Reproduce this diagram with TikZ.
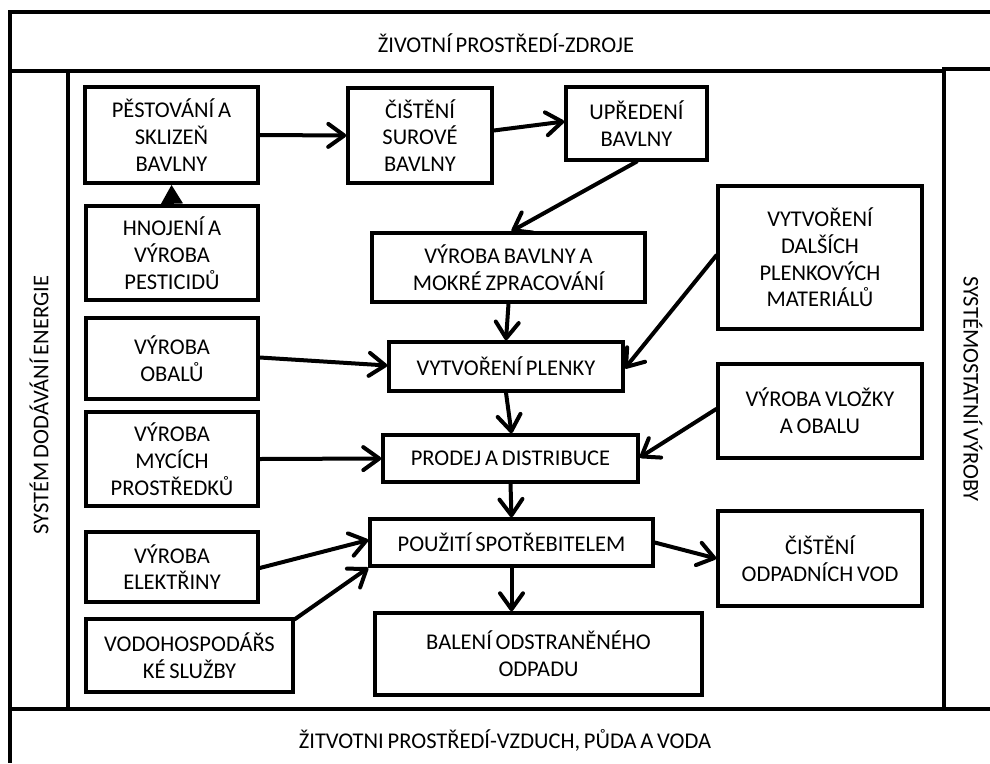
\documentclass[tikz,border=0pt]{standalone}
\usepackage{fontspec}
\setmainfont{Carlito}[WordSpace=0.75]
\usetikzlibrary{arrows.meta}
\begin{document}
\begin{tikzpicture}[x=1pt,y=-1pt,
  frame/.style={line width=3.5pt},
  box/.style={draw,line width=3.5pt,align=center,font=\fontsize{22.5}{26.7}\selectfont,inner sep=0pt},
  lbl/.style={font=\fontsize{22.5}{26}\selectfont,inner sep=0pt},
  arr/.style={line width=4pt,line cap=round,-{Straight Barb[length=16pt,width=23pt,line cap=round,line join=round]}},
  shortarr/.style={line width=4pt,-{Triangle[length=19pt,width=21pt]}},
]
\useasboundingbox (0,0) rectangle (990,763);
% frame
\draw[frame] (990,12) -- (10,12) -- (10,763);
\draw[frame] (10,71) -- (944,71);
\draw[frame] (68,71) -- (68,709);
\draw[frame] (990,69) -- (944,69) -- (944,709);
\draw[frame] (10,709) -- (990,709);
\node[lbl] (top) at (506,43) {ŽIVOTNÍ PROSTŘEDÍ-ZDROJE};
\node[lbl] (bot) at (505,740) {ŽITVOTNI PROSTŘEDÍ-VZDUCH, PŮDA A VODA};
\node[lbl,rotate=90] (lft) at (39,405) {SYSTÉM DODÁVÁNÍ ENERGIE};
\node[lbl,rotate=-90] (rgt) at (973,389) {SYSTÉMOSTATNÍ VÝROBY};
% boxes
\node[box,minimum width=173pt,minimum height=96pt] (pest) at (171.5,135) {PĚSTOVÁNÍ A\\SKLIZEŇ\\BAVLNY};
\node[box,minimum width=144pt,minimum height=95pt] (cist) at (420,135.5) {ČIŠTĚNÍ\\SUROVÉ\\BAVLNY};
\node[box,minimum width=141pt,minimum height=73pt] (upr) at (636.5,123.5) {UPŘEDENÍ\\BAVLNY};
\node[box,minimum width=172pt,minimum height=94pt] (hnoj) at (172,253) {HNOJENÍ A\\VÝROBA\\PESTICIDŮ};
\node[box,minimum width=273pt,minimum height=69pt] (mokre) at (508.5,267.5) {VÝROBA BAVLNY A\\MOKRÉ ZPRACOVÁNÍ};
\node[box,minimum width=204pt,minimum height=143pt] (dalsi) at (820,257.5) {VYTVOŘENÍ\\DALŠÍCH\\PLENKOVÝCH\\MATERIÁLŮ};
\node[box,minimum width=172pt,minimum height=81pt] (obal) at (172,358.5) {VÝROBA\\OBALŮ};
\node[box,minimum width=234pt,minimum height=49pt] (plenky) at (506,366.5) {VYTVOŘENÍ PLENKY};
\node[box,minimum width=172pt,minimum height=94pt] (myci) at (172,459) {VÝROBA\\MYCÍCH\\PROSTŘEDKŮ};
\node[box,minimum width=255pt,minimum height=47pt] (prodej) at (510.5,458.5) {PRODEJ A DISTRIBUCE};
\node[box,minimum width=204pt,minimum height=94pt] (vlozky) at (820,411) {VÝROBA VLOŽKY\\A OBALU};
\node[box,minimum width=283pt,minimum height=47pt] (pouz) at (511.5,542.5) {POUŽITÍ SPOTŘEBITELEM};
\node[box,minimum width=204pt,minimum height=95pt] (odpv) at (820,558.5) {ČIŠTĚNÍ\\ODPADNÍCH VOD};
\node[box,minimum width=172pt,minimum height=70pt] (elek) at (172,567) {VÝROBA\\ELEKTŘINY};
\node[box,minimum width=207pt,minimum height=73pt] (vodo) at (189.5,655.5) {VODOHOSPODÁŘS\\KÉ SLUŽBY};
\node[box,minimum width=327pt,minimum height=82pt] (bal) at (538.5,654) {BALENÍ ODSTRANĚNÉHO\\ODPADU};
% connectors
\draw[arr] (pest.east) -- (cist.west);
\draw[arr] ([yshift=5pt]cist.east) -- ([yshift=2pt]upr.west);
\draw[shortarr] (hnoj.north) -- (pest.south);
\draw[arr] (upr.south) -- ([xshift=3pt]mokre.north);
\draw[arr] (mokre.south) -- (plenky.north);
\draw[arr] ([yshift=2pt]dalsi.west) -- ([yshift=-2pt]plenky.east);
\draw[arr] ([yshift=1pt]obal.east) -- ([yshift=1pt]plenky.west);
\draw[arr] (plenky.south) -- ([xshift=1pt]prodej.north);
\draw[arr] (myci.east) -- (prodej.west);
\draw[arr] ([yshift=2pt]vlozky.west) -- ([yshift=1pt]prodej.east);
\draw[arr] (prodej.south) -- (pouz.north);
\draw[arr] ([yshift=-1pt]elek.east) -- ([yshift=2.5pt]pouz.west);
\draw[arr] ([yshift=-2pt]vodo.north east) -- (pouz.south west);
\draw[arr] (pouz.east) -- (odpv.west);
\draw[arr] (pouz.south) -- (pouz.south |- bal.north);
\end{tikzpicture}
\end{document}
